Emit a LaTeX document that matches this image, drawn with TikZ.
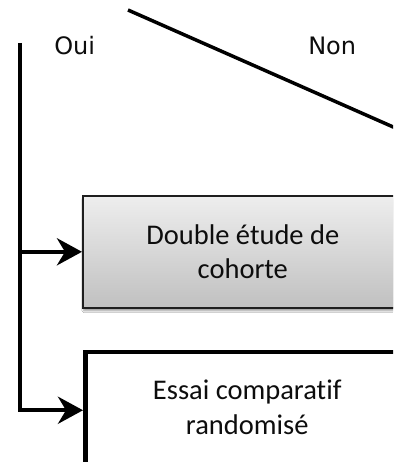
\documentclass[tikz,border=0pt]{standalone}
\usepackage{fontspec}
\setmainfont{Carlito}[Ligatures=NoCommon]
\newfontfamily\lblfont{DejaVu Sans}
\usetikzlibrary{arrows.meta,shadows.blur}
\definecolor{boxtop}{RGB}{238,238,238}
\definecolor{boxbot}{RGB}{192,192,192}
\definecolor{boxline}{RGB}{30,30,30}
\begin{document}
\begin{tikzpicture}[x=1pt,y=-1pt,
  every node/.style={font=\fontsize{28.5}{34.3}\selectfont, text=black!95},
  conn/.style={line width=4.2pt, black, line join=miter},
  tipconn/.style={conn, -{Stealth[length=25pt,width=27pt,inset=8pt]}},
  greybox/.style={draw=boxline, line width=1.6pt, top color=boxtop, bottom color=boxbot,
    minimum width=320pt, minimum height=112pt, align=center, inner sep=0pt,
    blur shadow={shadow xshift=1pt, shadow yshift=-3pt, shadow blur steps=6, shadow opacity=40}},
  whitebox/.style={draw=black, line width=4.5pt, fill=white,
    minimum width=324pt, minimum height=117pt, align=center, inner sep=0pt},
  lbl/.style={anchor=base, inner sep=0pt, font=\lblfont\fontsize{24}{28}\selectfont}]
\useasboundingbox (0,0) rectangle (393,462);
\clip (0,0) rectangle (393,462);
\fill[white] (0,0) rectangle (393,462);
% diagonal line
\coordinate (d1) at (128,10);
\coordinate (d2) at (400,130);
\draw[line width=3.5pt] (d1) -- (d2);
% labels
\node[lbl] (oui) at (74.7,54.5) {Oui};
\node[lbl] (non) at (332.2,54.5) {Non};
% boxes
\node[greybox, anchor=north west] (b1) at (82,195) {Double étude de\\cohorte};
\node[whitebox, anchor=north west] (b2) at (83,349.5) {\raisebox{-2pt}{\begin{tabular}{@{}c@{}}Essai comparatif\\randomisé\end{tabular}}};
% connectors
\coordinate (top) at (20,43);
\draw[tipconn] (top) |- (b2.west);
\draw[tipconn] (top |- b1.west) -- (b1.west);
\end{tikzpicture}
\end{document}
